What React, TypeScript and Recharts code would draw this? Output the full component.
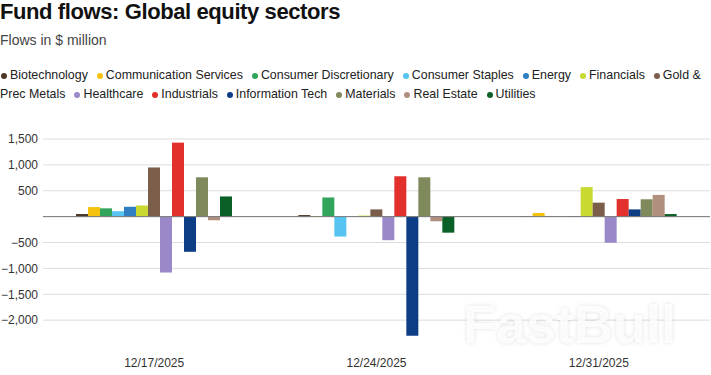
import { Fragment } from 'react';
import { BarChart, Bar, XAxis, YAxis, CartesianGrid, ReferenceLine } from 'recharts';

const DATES = ['12/17/2025', '12/24/2025', '12/31/2025'];

const SECTORS = [
    'Biotechnology', 'Communication Services', 'Consumer Discretionary', 'Consumer Staples',
    'Energy', 'Financials', 'Gold & Prec Metals', 'Healthcare', 'Industrials',
    'Information Tech', 'Materials', 'Real Estate', 'Utilities',
];

const COLORS = [
    '#4a3728', '#f5c30f', '#2fa45a', '#56c3f0', '#2e7fc1', '#c8d92f', '#7a5e49',
    '#9a88c9', '#e2302d', '#0d3e85', '#7e8a5b', '#b08f7e', '#0b6027',
];

// flows in $ million, one entry per sector (same order as SECTORS)
const FLOWS_1217 = [50, 185, 160, 105, 190, 215, 950, -1080, 1430, -680, 760, -70, 390];
const FLOWS_1224 = [30, 8, 370, -385, 3, 20, 140, -455, 780, -2300, 760, -90, -310];
const FLOWS_1231 = [8, 70, 12, 5, 12, 570, 270, -505, 340, 140, 335, 420, 50];

const Y_TICKS = [-2000, -1500, -1000, -500, 0, 500, 1000, 1500];

const FONT = '"Liberation Sans", Arial, Helvetica, sans-serif';

const rows = [FLOWS_1217, FLOWS_1224, FLOWS_1231].map((vals, i) => {
    const row: Record<string, string | number> = { date: DATES[i] };
    SECTORS.forEach((s, j) => { row[s] = vals[j]; });
    return row;
});

const fmtY = (v: number) => {
    if (v === 0) return '';
    const s = Math.abs(v).toLocaleString('en-US');
    return v < 0 ? '\u2212' + s : s;
};

// words as separate spans so a label that wraps ("Gold & / Prec Metals") keeps tight boxes
function LegendLabel({ text, last }: { text: string; last: boolean }) {
    const words = text.split(' ');
    return (
        <>
            {words.map((w, k) => (
                <Fragment key={k}>
                    {k > 0 ? ' ' : null}
                    <span style={{ marginRight: k === words.length - 1 && !last ? 9 : 0 }}>{w}</span>
                </Fragment>
            ))}
        </>
    );
}

export default function App() {
    return (
        <div style={{ position: 'relative', width: 711, height: 375, background: '#fff', fontFamily: FONT }}>
            <style>{'body{margin:0}'}</style>
            <div style={{ position: 'absolute', left: 0, top: 0, fontSize: 22, lineHeight: '24px', fontWeight: 700, letterSpacing: -0.4, color: '#111' }}>
                Fund flows: Global equity sectors
            </div>
            <div style={{ position: 'absolute', left: 0, top: 32, fontSize: 14, lineHeight: '16px', color: '#444' }}>
                Flows in $ million
            </div>
            <div style={{ position: 'absolute', left: 0, top: 66, width: 711, fontSize: 12.4, lineHeight: '19px', color: '#222' }}>
                {SECTORS.map((s, i) => (
                    <Fragment key={s}>
                        <i style={{ display: 'inline-block', width: 6, height: 6, borderRadius: '50%', background: COLORS[i], marginLeft: i === 0 ? 1 : 0, marginRight: 3 }} />
                        <LegendLabel text={s} last={i === SECTORS.length - 1} />
                    </Fragment>
                ))}
            </div>
            <div style={{ position: 'absolute', left: 0, top: 120 }}>
                <BarChart width={711} height={255} data={rows} margin={{ top: 19, right: 1, bottom: 0, left: 0 }}
                    barCategoryGap={33} barGap={0}>
                    <CartesianGrid vertical={false} stroke="#dcdcdc" horizontalValues={Y_TICKS} />
                    <XAxis dataKey="date" axisLine={false} tickLine={false} tickSize={6} tickMargin={6} height={29} interval={0}
                        tick={{ fontSize: 12, fill: '#333', fontFamily: FONT }} />
                    <YAxis domain={[-2500, 1500]} ticks={Y_TICKS} tickFormatter={fmtY} width={43} axisLine={false} tickLine={false}
                        tickSize={5} tickMargin={0} interval={0} tick={{ fontSize: 12, fill: '#333', fontFamily: FONT }} />
                    <ReferenceLine y={0} stroke="#777" />
                    {SECTORS.map((s, i) => (
                        <Bar key={s} dataKey={s} fill={COLORS[i]} isAnimationActive={false} />
                    ))}
                </BarChart>
            </div>
            <div style={{ position: 'absolute', left: 463, top: 293, fontSize: 54, fontWeight: 700, color: 'rgba(255,255,255,0.85)', textShadow: '0 0 4px rgba(0,0,0,0.12)', pointerEvents: 'none' }}>
                FastBull
            </div>
        </div>
    );
}
